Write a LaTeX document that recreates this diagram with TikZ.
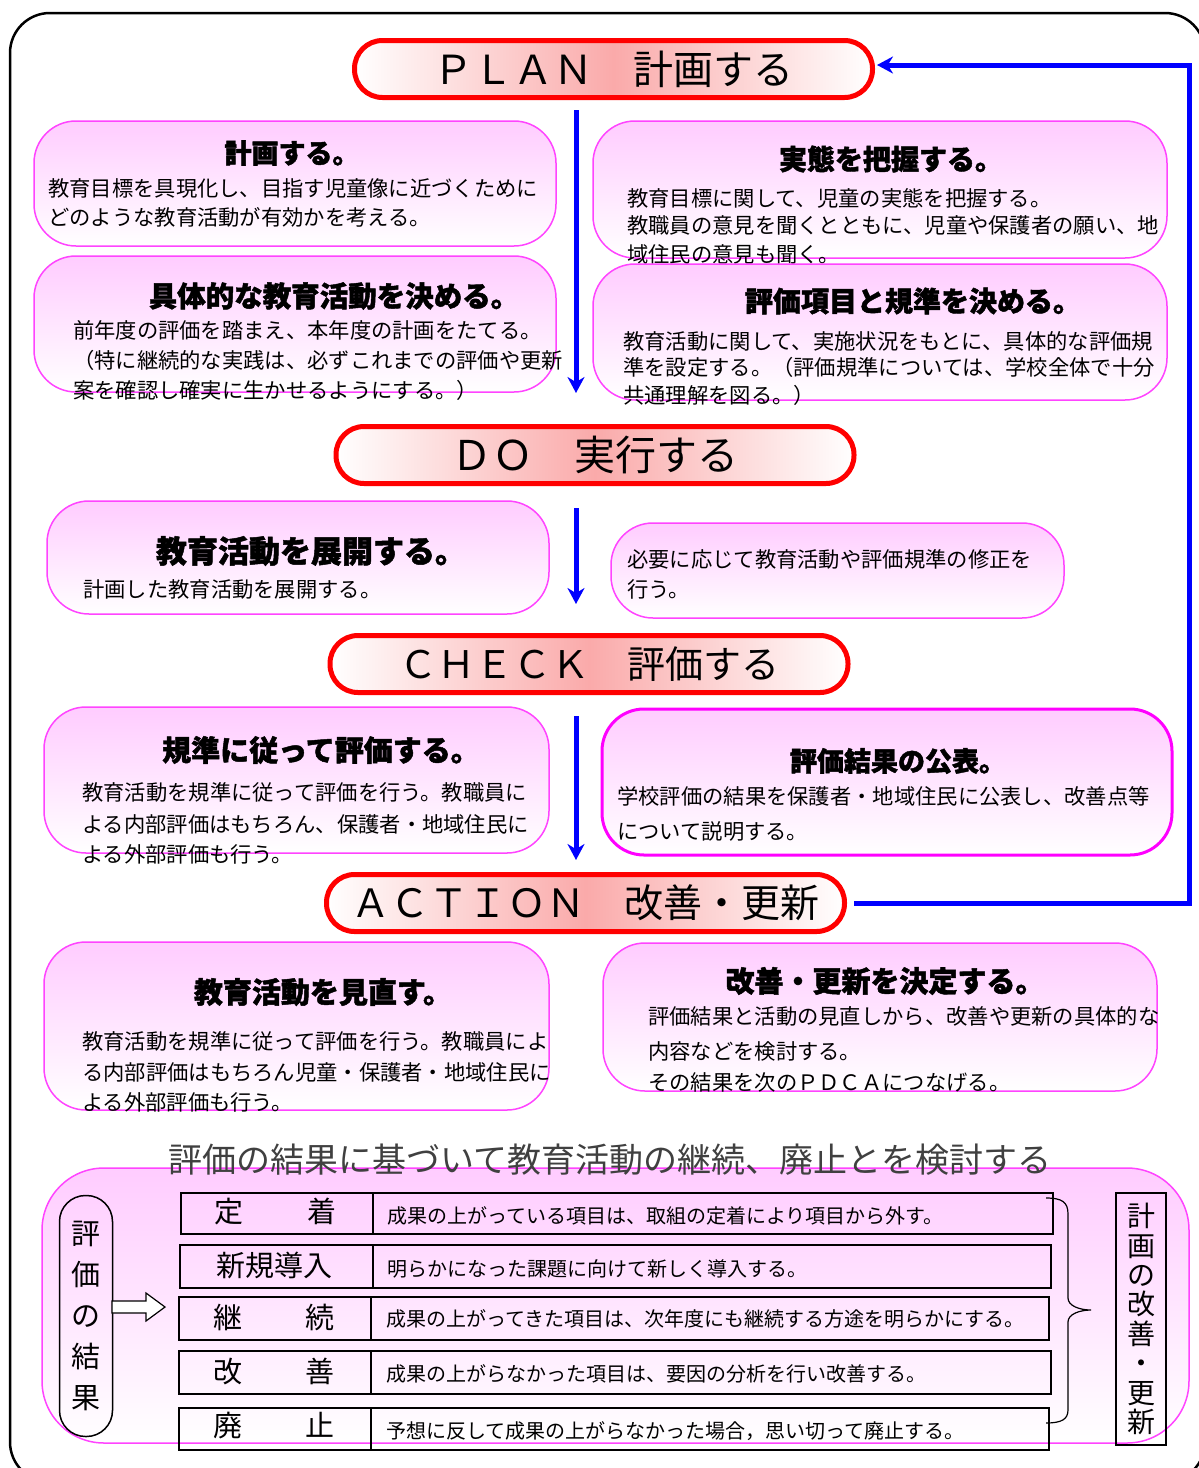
\documentclass[tikz,border=0pt]{standalone}
\usepackage{fontspec}
\setmainfont{Noto Sans CJK JP}[BoldFeatures={FakeBold=1.6}]
\usetikzlibrary{arrows.meta}
\definecolor{pinkT}{HTML}{FFCCFF}
\definecolor{magB}{HTML}{FF44FF}
\definecolor{magS}{HTML}{FF00FF}
\definecolor{hdrM}{HTML}{FAAAAA}
\definecolor{arrB}{HTML}{0000FF}
\tikzset{
  pbox/.style={draw=magB, line width=1.5pt, rounded corners=42pt, top color=pinkT, bottom color=white, inner sep=0pt, outer sep=0pt},
  hdr/.style={draw=red, line width=5pt, rounded corners=28pt, left color=white, right color=white, middle color=hdrM, inner sep=0pt, minimum width=518pt, minimum height=57pt},
  ttl/.style={font=\bfseries\fontsize{28}{30}\selectfont, inner sep=0pt},
  bd/.style={font=\fontsize{21.3}{24}\selectfont, anchor=west, inner sep=0pt},
  tb/.style={font=\fontsize{20}{22}\selectfont, anchor=west, inner sep=0pt},
  cell/.style={draw=black, line width=2pt, inner sep=0pt, anchor=north west},
  barrow/.style={draw=arrB, line width=5pt, -{Stealth[length=16pt,width=17pt]}},
}
\begin{document}
\begin{tikzpicture}[x=1pt,y=-1pt]
\useasboundingbox (0,0) rectangle (1199,1468);
% outer frame
\draw[line width=2.5pt, rounded corners=40pt] (10,13) rectangle (1205,1482);

% headers
\node[hdr, font=\fontsize{40}{42}\selectfont] (plan) at (613.5,69) {ＰＬＡＮ　計画する};
\node[hdr, font=\fontsize{41}{43}\selectfont] (do) at (595,455) {ＤＯ　実行する};
\node[hdr, font=\fontsize{38}{40}\selectfont] (check) at (589,664) {ＣＨＥＣＫ　評価する};
\node[hdr, font=\fontsize{39}{41}\selectfont] (action) at (585.5,903) {ＡＣＴＩＯＮ　改善・更新};

% vertical arrows
\coordinate (a1s) at (576,110); \coordinate (a1e) at (576,393);
\coordinate (a2s) at (576,508); \coordinate (a2e) at (576,604);
\coordinate (a3s) at (576,716); \coordinate (a3e) at (576,860);
\draw[barrow] (a1s) -- (a1e);
\draw[barrow] (a2s) -- (a2e);
\draw[barrow] (a3s) -- (a3e);
% feedback
\coordinate (fbk) at (1189,65);
\draw[barrow] ([xshift=7pt]action.east) -- (action.east -| fbk) -- (fbk) -- ([xshift=2pt]plan.east |- fbk);

% PLAN boxes
\node[pbox, minimum width=522pt, minimum height=125pt] (b1) at (295,183.5) {};
\node[ttl, font=\bfseries\fontsize{27}{30}\selectfont] (b1t) at (292,153) {計画する。};
\node[bd] (b1a) at (48,188) {教育目標を具現化し、目指す児童像に近づくために};
\node[bd] (b1b) at (48,217) {どのような教育活動が有効かを考える。};

\node[pbox, minimum width=574pt, minimum height=137pt] (b2) at (880,189.5) {};
\node[ttl] (b2t) at (891,159) {実態を把握する。};
\node[bd] (b2a) at (627,198) {教育目標に関して、児童の実態を把握する。};
\node[bd] (b2b) at (627,225) {教職員の意見を聞くとともに、児童や保護者の願い、地};
\node[bd] (b2c) at (627,254) {域住民の意見も聞く。};

\node[pbox, minimum width=522pt, minimum height=136pt] (b3) at (295,324) {};
\node[ttl, font=\bfseries\fontsize{28.5}{30}\selectfont] (b3t) at (334,296) {具体的な教育活動を決める。};
\node[bd] (b3a) at (73,330) {前年度の評価を踏まえ、本年度の計画をたてる。};
\node[bd] (b3b) at (73,360) {（特に継続的な実践は、必ずこれまでの評価や更新};
\node[bd] (b3c) at (73,390) {案を確認し確実に生かせるようにする。）};

\node[pbox, minimum width=574pt, minimum height=136pt] (b4) at (880,332) {};
\node[ttl] (b4t) at (913,301) {評価項目と規準を決める。};
\node[bd] (b4a) at (623,341) {教育活動に関して、実施状況をもとに、具体的な評価規};
\node[bd] (b4b) at (623,367) {準を設定する。（評価規準については、学校全体で十分};
\node[bd] (b4c) at (623,395) {共通理解を図る。）};

% DO boxes
\node[pbox, minimum width=502pt, minimum height=113pt] (b5) at (298,557.5) {};
\node[ttl, font=\bfseries\fontsize{31}{33}\selectfont] (b5t) at (311,551) {教育活動を展開する。};
\node[bd] (b5a) at (83,589) {計画した教育活動を展開する。};

\node[pbox, minimum width=453pt, minimum height=95pt] (b6) at (837.5,570.5) {};
\node[bd] (b6a) at (627,559) {必要に応じて教育活動や評価規準の修正を};
\node[bd] (b6b) at (627,589) {行う。};

% CHECK boxes
\node[pbox, minimum width=505pt, minimum height=146pt] (b7) at (296.5,780) {};
\node[ttl, font=\bfseries\fontsize{29}{31}\selectfont] (b7t) at (321,750) {規準に従って評価する。};
\node[bd] (b7a) at (82,792) {教育活動を規準に従って評価を行う。教職員に};
\node[bd] (b7b) at (82,824) {よる内部評価はもちろん、保護者・地域住民に};
\node[bd] (b7c) at (82,854) {よる外部評価も行う。};

\node[pbox, draw=magS, line width=3pt, minimum width=570pt, minimum height=146pt] (b8) at (887,782) {};
\node[ttl, font=\bfseries\fontsize{27}{30}\selectfont] (b8t) at (898,761) {評価結果の公表。};
\node[bd] (b8a) at (617,796) {学校評価の結果を保護者・地域住民に公表し、改善点等};
\node[bd] (b8b) at (617,831) {について説明する。};

% ACTION boxes
\node[pbox, minimum width=505pt, minimum height=168pt] (b9) at (296.5,1026) {};
\node[ttl, font=\bfseries\fontsize{29}{31}\selectfont] (b9t) at (323,992) {教育活動を見直す。};
\node[bd] (b9a) at (82,1041) {教育活動を規準に従って評価を行う。教職員によ};
\node[bd] (b9b) at (82,1072) {る内部評価はもちろん児童・保護者・地域住民に};
\node[bd] (b9c) at (82,1102) {よる外部評価も行う。};

\node[pbox, minimum width=554pt, minimum height=148pt] (b10) at (880,1017) {};
\node[ttl, font=\bfseries\fontsize{29}{31}\selectfont] (b10t) at (885,981) {改善・更新を決定する。};
\node[bd] (b10a) at (648,1016) {評価結果と活動の見直しから、改善や更新の具体的な};
\node[bd] (b10b) at (648,1051) {内容などを検討する。};
\node[bd] (b10c) at (648,1082) {その結果を次のＰＤＣＡにつなげる。};

% bottom section
\node[pbox, rounded corners=62pt, minimum width=1147pt, minimum height=275pt] (big) at (615.5,1305.5) {};
\node[font=\fontsize{34}{36}\selectfont, text=black!75, inner sep=0pt] (cap) at (610,1160) {評価の結果に基づいて教育活動の継続、廃止とを検討する};

\node[draw, line width=1.5pt, rounded corners=26pt, minimum width=53pt, minimum height=241pt, inner sep=0pt, font=\fontsize{29}{41}\selectfont, align=center] (hyoka) at (86,1316) {評\\価\\の\\結\\果};

\draw[line width=1.2pt, fill=white] (112,1301) -- (146,1301) -- (146,1293) -- (165,1307) -- (146,1321) -- (146,1313) -- (112,1313) -- cycle;

% table
\node[cell, minimum width=192pt, minimum height=41pt] (l1) at (180,1192) {};
\node[cell, minimum width=680pt, minimum height=41pt] (r1) at (372,1192) {};
\node[cell, minimum width=193pt, minimum height=43pt] (l2) at (179,1244) {};
\node[cell, minimum width=678pt, minimum height=43pt] (r2) at (372,1244) {};
\node[cell, minimum width=192pt, minimum height=43pt] (l3) at (178,1296) {};
\node[cell, minimum width=678pt, minimum height=43pt] (r3) at (370,1296) {};
\node[cell, minimum width=192pt, minimum height=43pt] (l4) at (178,1350) {};
\node[cell, minimum width=680pt, minimum height=43pt] (r4) at (370,1350) {};
\node[cell, minimum width=192pt, minimum height=42pt] (l5) at (178,1407) {};
\node[cell, minimum width=678pt, minimum height=42pt] (r5) at (370,1407) {};

\node[font=\fontsize{29}{31}\selectfont, inner sep=0pt] (l1t) at (275.5,1211) {定\hspace{64pt}着};
\node[font=\fontsize{29}{31}\selectfont, inner sep=0pt] (l2t) at (274,1265) {新規導入};
\node[font=\fontsize{29}{31}\selectfont, inner sep=0pt] (l3t) at (274,1317) {継\hspace{64pt}続};
\node[font=\fontsize{29}{31}\selectfont, inner sep=0pt] (l4t) at (274,1371) {改\hspace{64pt}善};
\node[font=\fontsize{29}{31}\selectfont, inner sep=0pt] (l5t) at (274,1426) {廃\hspace{64pt}止};

\node[tb] (r1t) at (387,1216) {成果の上がっている項目は、取組の定着により項目から外す。};
\node[tb] (r2t) at (387,1269) {明らかになった課題に向けて新しく導入する。};
\node[tb] (r3t) at (386,1319) {成果の上がってきた項目は、次年度にも継続する方途を明らかにする。};
\node[tb] (r4t) at (386,1374) {成果の上がらなかった項目は、要因の分析を行い改善する。};
\node[tb] (r5t) at (386,1431) {予想に反して成果の上がらなかった場合，思い切って廃止する。};

% brace
\draw[line width=1.2pt] (1046,1198) .. controls (1062,1198) and (1068,1202) .. (1068,1214) -- (1068,1298) .. controls (1068,1306) and (1080,1310) .. (1091,1310) .. controls (1080,1310) and (1068,1314) .. (1068,1322) -- (1068,1410) .. controls (1068,1419) and (1062,1423) .. (1046,1423);

\node[draw, line width=2pt, minimum width=50pt, minimum height=252pt, inner sep=0pt, font=\fontsize{28}{29.4}\selectfont, align=center] (kaizen) at (1141,1319) {計\\画\\の\\改\\善\\・\\更\\新};
\end{tikzpicture}
\end{document}
